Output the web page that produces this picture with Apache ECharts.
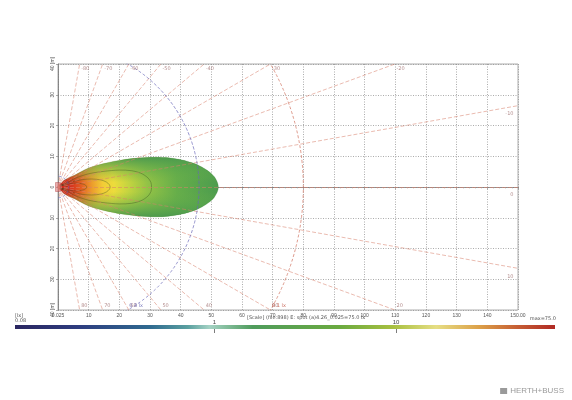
<!DOCTYPE html>
<html>
<head>
<meta charset="utf-8">
<script src="https://cdn.jsdelivr.net/npm/echarts@6/dist/echarts.min.js"></script>
<style>
  html, body { margin: 0; padding: 0; background: #fff; }
  #chart { width: 572px; height: 400px; }
</style>
</head>
<body>
<div id="chart"></div>
<script>
// all distances in metres, angles in degrees (negative = upward in the plot)
const xMax = 150
const yMax = 40
const rayAngles = [-80, -70, -60, -50, -40, -30, -20, -10, 0, 10, 20, 30, 40, 50, 60, 70, 80]
const arcRadii = [3.5, 46, 80]
const arcLabels = ['', '0.3 lx', '0.1 lx']

// isolux contours, upper half (mirrored below the axis)
const contour1 = [[0, 0], [1, 1.2], [2.5, 2.5], [5.5, 3.9], [9.8, 6.1], [15.3, 7.7], [20.8, 8.8], [26, 9.4], [31.6, 9.7], [36, 9.5], [40.4, 8.8], [44, 7.8], [46.9, 6.5], [49.5, 4.8], [51, 3.3], [52, 1.5], [52.3, 0]]
const contour2 = [[0, 0], [3, 1.5], [6, 3], [10, 4.3], [15, 5.1], [20, 5.5], [24, 5.3], [27, 4.5], [29.3, 3], [30.3, 1.5], [30.5, 0]]
const contour3 = [[0, 0], [2, 0.9], [5, 1.8], [8, 2.4], [11, 2.6], [14, 2.3], [15.8, 1.6], [16.7, 0.8], [17, 0]]
const contour4 = [[0, 0], [2, 0.7], [4, 1.1], [6, 1.3], [8, 1.0], [9, 0.6], [9.4, 0]]
const contour5 = [[0, 0], [1, 0.4], [2, 0.5], [2.8, 0.3], [3, 0]]
const contours = [contour1, contour2, contour3, contour4, contour5]

// colour scale (lx)
const scaleMin = 0.08
const scaleMax = 75
const scaleTicks = [1, 10]

// colours of the beam, from the lamp outwards
const beamStops = [
  [0, '#cc261c'], [0.08, '#d6321e'], [0.14, '#e25a22'], [0.21, '#ec9a2c'],
  [0.28, '#f2cc36'], [0.35, '#ecdc3c'], [0.44, '#c4d440'], [0.56, '#92c246'],
  [0.74, '#66ae4a'], [1, '#4c9c4e']
]

const rayEnd = a => {
  const r = a * Math.PI / 180
  const c = Math.cos(r), s = -Math.sin(r)
  let t = xMax / c
  if (s !== 0) t = Math.min(t, yMax / Math.abs(s))
  return [c * t, s * t]
}

const rayLines = rayAngles.map(a => ({ coords: [[0, 0], rayEnd(a)] }))

const rayLabelData = rayAngles.map(a => {
  const p = rayEnd(a)
  let label
  if (p[1] >= yMax - 0.01) label = { position: 'right', distance: 1, offset: [0, 5] }
  else if (p[1] <= -yMax + 0.01) label = { position: 'right', distance: 1, offset: [0, -4] }
  else label = { position: 'left', distance: 1, offset: [-3, 8] }
  return { value: p, label: Object.assign({ show: true, formatter: String(a) }, label) }
})

const arcLabelData = arcRadii.map((r, i) => {
  if (!arcLabels[i]) return null
  const x = Math.sqrt(r * r - yMax * yMax)
  return {
    value: [x, -yMax],
    label: { show: true, formatter: arcLabels[i], position: 'right', distance: 1, offset: [0, -4], color: i === 2 ? '#c05040' : '#6060b0' }
  }
}).filter(d => d)

const arcSeries = arcRadii.map((r, i) => {
  const pts = []
  for (let a = -90; a <= 90; a += 2) {
    const t = a * Math.PI / 180
    pts.push([r * Math.cos(t), r * Math.sin(t)])
  }
  return {
    type: 'line',
    data: pts,
    showSymbol: false,
    silent: true,
    smooth: true,
    z: 4,
    lineStyle: { color: i === 2 ? '#d0705c' : '#6a68b8', width: 0.7, type: [3, 2] }
  }
})

const chart = echarts.init(document.getElementById('chart'))

chart.setOption({
  backgroundColor: '#fff',
  animation: false,
  grid: [
    { left: 58, right: 54, top: 64, bottom: 90, show: true, borderColor: '#999', borderWidth: 0.8 },
    { left: 15, right: 17, top: 325, height: 4 }
  ],
  xAxis: [
    {
      type: 'value', min: 0, max: xMax, interval: 10,
      axisLine: { lineStyle: { color: '#777', width: 0.8 } },
      axisTick: { length: 2, lineStyle: { color: '#777', width: 0.6 } },
      minorTick: { show: true, splitNumber: 5, length: 1.5, lineStyle: { color: '#999', width: 0.5 } },
      axisLabel: {
        fontSize: 5, color: '#555', margin: 3,
        formatter: v => v === 0 ? '0.025' : (v === xMax ? '150.00' : v)
      },
      splitLine: { lineStyle: { type: [1, 1.5], color: '#888', width: 0.7 } }
    },
    {
      gridIndex: 1, type: 'log', min: scaleMin, max: scaleMax, position: 'top', z: 5,
      axisLine: { show: false },
      axisTick: { customValues: scaleTicks, inside: true, length: 4, lineStyle: { color: '#444', width: 0.7 } },
      axisLabel: { customValues: scaleTicks, fontSize: 6, color: '#444', margin: 0 },
      splitLine: { show: false }
    }
  ],
  yAxis: [
    {
      type: 'value', min: -yMax, max: yMax, interval: 10,
      axisLine: { lineStyle: { color: '#777', width: 0.8 } },
      axisTick: { length: 2, lineStyle: { color: '#777', width: 0.6 } },
      axisLabel: {
        fontSize: 5, color: '#555', margin: 3, rotate: 90,
        formatter: v => Math.abs(v) === yMax ? Math.abs(v) + ' [m]' : String(Math.abs(v))
      },
      splitLine: { lineStyle: { type: [1, 1.5], color: '#888', width: 0.7 } }
    },
    { gridIndex: 1, type: 'value', min: 0, max: 1, show: false }
  ],
  graphic: [
    {
      type: 'text', left: 247, top: 315,
      style: { text: '[Scale] (file:898) E: spot (a)4.26_0.025=75.0 lx', fontSize: 5, fill: '#555', fontFamily: 'DejaVu Sans' }
    },
    {
      type: 'text', left: 15, top: 313,
      style: { text: '[lx]\n0.08', fontSize: 5, lineHeight: 5, fill: '#555', fontFamily: 'DejaVu Sans' }
    },
    {
      type: 'text', right: 16, top: 316,
      style: { text: 'max=75.0', fontSize: 5, fill: '#555', fontFamily: 'DejaVu Sans' }
    },
    {
      type: 'group', right: 8, bottom: 5,
      children: [
        { type: 'rect', shape: { x: 0, y: 1, width: 7, height: 6 }, style: { fill: '#9a9a9a' } },
        { type: 'text', x: 10, y: 0, style: { text: 'HERTH+BUSS', fontSize: 8, fill: '#9a9a9a', fontFamily: 'Liberation Sans' } }
      ]
    }
  ],
  series: [
    {
      type: 'custom',
      name: 'beam',
      z: 2,
      silent: true,
      data: contours.map(c => [c[c.length - 1][0], 0]),
      renderItem: (params, api) => {
        const c = contours[params.dataIndex]
        const upper = c.map(p => api.coord(p))
        const lower = c.slice(1, -1).reverse().map(p => api.coord([p[0], -p[1]]))
        const pts = upper.concat(lower)
        const stroke = { stroke: 'rgba(45,70,30,0.5)', lineWidth: 0.7, fill: 'none' }
        if (params.dataIndex > 0) {
          return { type: 'polygon', shape: { points: pts, smooth: 0.3 }, style: stroke }
        }
        const o = api.coord([0, 0])
        const tip = api.coord(c[c.length - 1])
        const R = tip[0] - o[0]
        return {
          type: 'group',
          children: [
            {
              type: 'polygon', shape: { points: pts, smooth: 0.3 },
              style: {
                fill: new echarts.graphic.RadialGradient(o[0], o[1], R,
                  beamStops.map(s => ({ offset: s[0], color: s[1] })), true)
              }
            },
            {
              type: 'polygon', shape: { points: pts, smooth: 0.3 },
              style: {
                fill: new echarts.graphic.LinearGradient(0, 0, 0, 1, [
                  { offset: 0, color: 'rgba(74,152,78,0.95)' },
                  { offset: 0.22, color: 'rgba(90,166,76,0.45)' },
                  { offset: 0.42, color: 'rgba(110,176,72,0)' },
                  { offset: 0.58, color: 'rgba(110,176,72,0)' },
                  { offset: 0.78, color: 'rgba(90,166,76,0.45)' },
                  { offset: 1, color: 'rgba(74,152,78,0.95)' }
                ])
              }
            },
            { type: 'polygon', shape: { points: pts, smooth: 0.3 }, style: { stroke: 'rgba(60,120,60,0.4)', lineWidth: 0.5, fill: 'none' } }
          ]
        }
      }
    },
    {
      type: 'lines',
      coordinateSystem: 'cartesian2d',
      data: rayLines,
      silent: true,
      z: 4,
      lineStyle: { color: '#d8806c', width: 0.6, type: [4, 2], opacity: 0.9 }
    },
    ...arcSeries,
    {
      type: 'scatter',
      name: 'lamp',
      data: [[0, 0]],
      symbol: 'rect',
      symbolSize: [5, 9],
      silent: true,
      z: 5,
      itemStyle: { color: 'rgba(220,110,110,0.7)', borderColor: '#b04040', borderWidth: 0.5 }
    },
    {
      type: 'scatter',
      data: rayLabelData.concat(arcLabelData),
      symbolSize: 1,
      silent: true,
      z: 6,
      itemStyle: { color: 'rgba(0,0,0,0)' },
      label: { fontSize: 5, color: '#a07070', fontFamily: 'DejaVu Sans' }
    },
    {
      type: 'custom',
      name: 'colour scale',
      xAxisIndex: 1,
      yAxisIndex: 1,
      z: 0,
      silent: true,
      data: [[scaleMin, 0]],
      renderItem: (params) => ({
        type: 'rect',
        shape: { x: params.coordSys.x, y: params.coordSys.y, width: params.coordSys.width, height: params.coordSys.height },
        style: {
          fill: new echarts.graphic.LinearGradient(0, 0, 1, 0, [
            { offset: 0, color: '#2a2660' },
            { offset: 0.12, color: '#2e3d80' },
            { offset: 0.25, color: '#2f6a90' },
            { offset: 0.32, color: '#5aa0a0' },
            { offset: 0.36, color: '#a4d2c4' },
            { offset: 0.44, color: '#4f9c5c' },
            { offset: 0.6, color: '#6aaa40' },
            { offset: 0.7, color: '#a8c040' },
            { offset: 0.78, color: '#e6de84' },
            { offset: 0.86, color: '#dca048' },
            { offset: 0.93, color: '#c65e34' },
            { offset: 1, color: '#b02a24' }
          ])
        }
      })
    }
  ]
})
</script>
</body>
</html>
